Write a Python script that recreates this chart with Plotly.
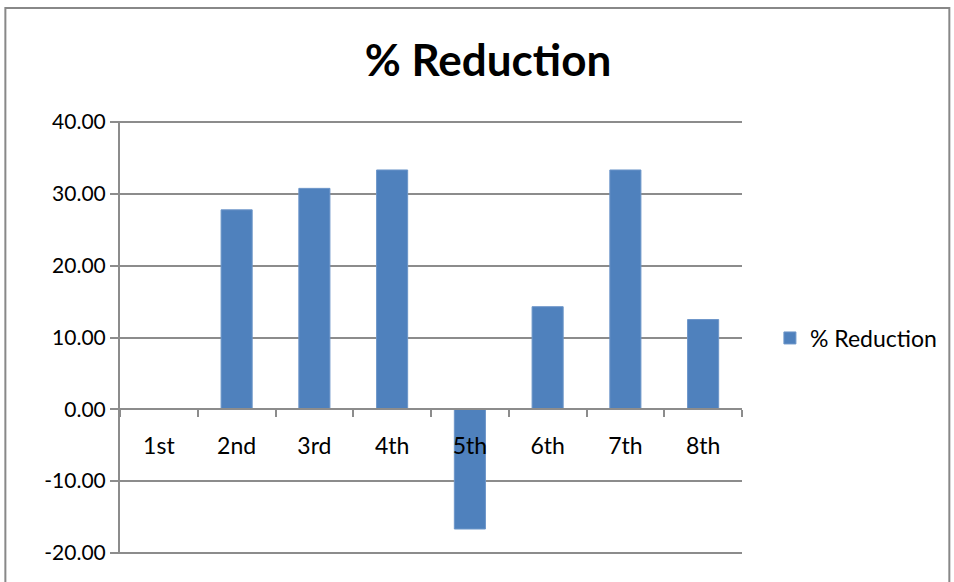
import plotly.graph_objects as go

# Per-round reduction values (%)
rounds = ["1st", "2nd", "3rd", "4th", "5th", "6th", "7th", "8th"]
reduction = [0.0, 27.78, 30.77, 33.33, -16.67, 14.29, 33.33, 12.5]
series_name = "% Reduction"
y_ticks = [-20, -10, 0, 10, 20, 30, 40]
y_tick_text = [f"{v:.2f}" for v in y_ticks]  # plain hyphen for negatives

W, H = 954, 582
L, R, T, B = 120, 210, 121, 28
pw, ph = W - L - R, H - T - B

FONT = "Lato, 'Open Sans', sans-serif"
GRID = "#8c8c8c"

fig = go.Figure()
fig.add_trace(go.Bar(
    x=rounds, y=reduction, name=series_name,
    marker=dict(color="#4F81BD", line=dict(color="#6d96c9", width=1)),
    showlegend=True,
))

ymin, ymax = -20.15, 40.15
zero_pos = (0 - ymin) / (ymax - ymin)

def px_to_paper_x(px):
    return (px - L) / pw

def px_to_paper_y(py):
    return (H - B - py) / ph

fig.update_layout(
    width=W, height=H,
    margin=dict(l=L, r=R, t=T, b=B),
    paper_bgcolor="white", plot_bgcolor="white",
    font=dict(family=FONT, size=21, color="black"),
    title=dict(text="<b>% Reduction</b>", x=488 / W, xanchor="center",
               y=1 - 61 / H, yanchor="middle", yref="container",
               font=dict(family=FONT, size=44, color="black")),
    bargap=0.6,
    xaxis=dict(
        type="category", anchor="free", position=zero_pos,
        showline=True, linecolor=GRID, linewidth=2,
        ticks="outside", tickson="boundaries", ticklen=7, tickwidth=2, tickcolor=GRID,
        ticklabelstandoff=16,
        showgrid=False, tickfont=dict(size=23, family=FONT, color="black"),
        range=[-0.5, len(rounds) - 0.5],
    ),
    yaxis=dict(
        range=[ymin, ymax], tickvals=y_ticks, ticktext=y_tick_text,
        showline=True, linecolor=GRID, linewidth=2,
        ticks="outside", ticklen=8, tickwidth=2, tickcolor=GRID,
        showgrid=True, gridcolor=GRID, gridwidth=2, zeroline=False,
        tickfont=dict(size=21, family=FONT, color="black"),
    ),
    legend=dict(x=px_to_paper_x(772), y=px_to_paper_y(338), xanchor="left", yanchor="middle",
                font=dict(size=23, family=FONT, color="black"), bgcolor="rgba(0,0,0,0)"),
    shapes=[dict(
        type="rect", xref="paper", yref="paper",
        x0=px_to_paper_x(5), x1=px_to_paper_x(952),
        y0=px_to_paper_y(600), y1=px_to_paper_y(8),
        line=dict(color="#888888", width=2), fillcolor="rgba(0,0,0,0)", layer="below",
    )],
)

fig.write_html("out.html")
